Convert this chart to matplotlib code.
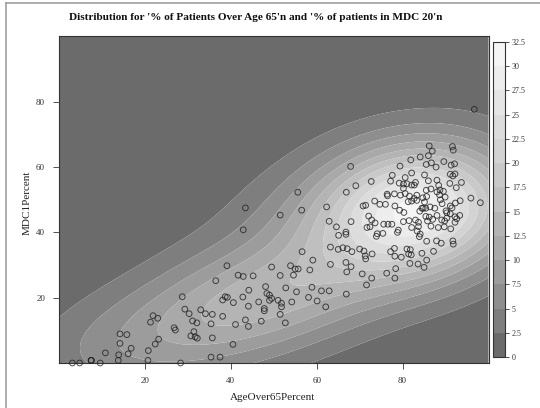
import numpy as np
import matplotlib
matplotlib.use("Agg")
import matplotlib.pyplot as plt
from matplotlib.colors import ListedColormap, BoundaryNorm
from matplotlib.lines import Line2D

# ---- data ----
age_over65 = [
    43.4, 42.9, 39.1, 36.5, 41.7, 42.9, 45.2, 44.2, 42.8, 38.7, 38.1, 39.2, 40.6, 28.7, 29.3, 30.3,
    33.0, 34.1, 35.7, 38.1, 44.1, 46.5, 52.7, 47.1, 43.4, 44.1, 41.1, 35.4, 31.1, 32.1, 26.8, 27.1,
    31.4, 30.7, 31.7, 32.2, 35.7, 40.5, 21.9, 23.0, 21.3, 14.2, 15.8, 14.2, 23.2, 22.4, 20.8, 16.8,
    16.1, 13.9, 13.8, 10.8, 20.7, 3.1, 4.8, 7.5, 7.5, 7.5, 9.6, 28.3, 35.4, 37.5,
    86.2, 86.9, 86.0, 91.6, 91.8, 84.1, 81.9, 85.5, 86.7, 87.8, 89.6, 92.1, 91.3, 79.4, 82.1, 85.1,
    80.6, 77.6, 77.2, 67.9, 72.7, 69.1, 92.2, 91.1, 91.7, 93.7, 88.0, 88.4, 88.7, 88.0, 79.2, 80.2,
    81.0, 82.1, 82.7, 83.0, 80.2, 78.1, 76.4, 76.5, 55.6, 66.9, 85.5, 86.6, 92.5, 93.4, 95.9, 98.1,
    79.5, 80.6, 81.6, 82.7, 83.3, 81.3, 82.1, 83.3, 84.7, 85.6, 85.1, 84.5, 84.8, 85.4, 86.4, 87.5,
    88.6, 88.8, 89.2, 90.1, 91.1, 91.5, 70.8, 71.4, 73.5, 74.7, 76.0, 78.2, 79.3, 80.3, 56.5, 62.3,
    51.5, 62.9, 68.0, 64.6, 65.1, 66.8, 66.8, 72.1, 72.8, 73.6, 72.4, 71.7, 74.1, 73.9, 75.4, 75.6,
    76.6, 77.5, 78.8, 79.0, 80.2, 81.5, 83.0, 83.7, 83.7, 82.1, 83.4, 84.1, 83.9, 85.8, 86.6, 86.2,
    85.4, 88.0, 89.1, 89.8, 90.3, 91.1, 92.2, 92.6, 93.3, 88.3, 89.7, 91.2, 92.2, 85.6, 87.9, 89.0,
    91.7, 91.8, 87.2, 63.2, 65.0, 66.1, 67.1, 68.2, 70.0, 71.0, 71.3, 71.4, 72.9, 77.2, 78.1, 78.2,
    79.7, 81.0, 81.8, 81.4, 82.0, 84.5, 85.6, 81.7, 83.6, 85.0, 56.6, 59.1, 63.2, 66.8, 68.0, 67.0,
    70.6, 72.8, 76.3, 78.4, 78.2, 71.6, 49.5, 53.9, 55.0, 55.7, 54.6, 58.4, 51.5, 52.8, 58.9, 61.1,
    62.9, 55.3, 66.9, 48.1, 48.4, 49.0, 49.5, 49.0, 51.0, 51.8, 51.8, 51.5, 47.8, 47.8, 54.2, 58.1,
    60.1, 62.1, 96.7,
    89.9, 90.3, 89.5, 92.3, 91.0, 87.0, 84.0, 86.0,
]
mdc1 = [
    47.5, 40.8, 29.8, 25.2, 26.9, 26.5, 26.7, 22.3, 20.2, 20.3, 19.3, 20.1, 18.5, 20.3, 16.5, 15.1,
    16.3, 15.1, 14.9, 14.3, 17.4, 18.7, 12.3, 12.8, 13.2, 11.2, 11.8, 12.0, 12.9, 12.3, 10.8, 10.1,
    9.6, 8.3, 8.0, 7.6, 7.7, 5.7, 14.5, 13.7, 12.5, 8.9, 8.7, 6.0, 7.3, 5.8, 3.8, 4.5,
    2.8, 2.5, 0.8, 3.1, 0.8, 0.0, 0.0, 0.8, 0.8, 0.8, 0.0, 0.0, 1.8, 1.8,
    66.5, 64.9, 63.5, 66.3, 65.2, 63.1, 62.2, 60.8, 61.3, 60.0, 61.7, 61.0, 60.6, 60.3, 58.2, 57.6,
    56.8, 57.5, 55.7, 60.2, 55.6, 54.3, 57.9, 57.8, 57.3, 55.3, 56.0, 54.4, 53.0, 52.4, 55.1, 54.8,
    54.9, 54.5, 54.5, 55.3, 53.5, 51.8, 51.7, 51.2, 52.3, 52.3, 52.9, 53.3, 53.7, 49.7, 50.5, 49.1,
    51.4, 51.9, 51.1, 50.4, 51.4, 49.4, 49.6, 49.8, 50.6, 51.0, 49.3, 47.4, 47.4, 47.4, 47.8, 47.4,
    51.5, 50.0, 48.8, 46.6, 48.1, 47.5, 48.1, 48.3, 49.6, 48.6, 48.6, 48.1, 46.8, 46.1, 46.8, 47.8,
    45.3, 43.4, 43.3, 41.7, 39.1, 40.1, 39.4, 45.0, 43.8, 42.9, 41.7, 41.5, 39.6, 38.8, 39.7, 42.5,
    42.5, 42.5, 40.0, 40.7, 43.3, 43.6, 43.8, 43.1, 41.8, 41.5, 40.4, 39.5, 38.7, 43.5, 41.9, 44.7,
    44.9, 45.2, 43.8, 43.5, 44.4, 45.7, 44.8, 44.2, 45.2, 41.5, 41.7, 41.1, 43.1, 37.3, 37.4, 36.7,
    37.4, 36.4, 34.2, 35.5, 34.8, 35.3, 35.0, 34.1, 34.9, 34.3, 32.8, 31.9, 33.4, 34.1, 35.1, 32.7,
    32.4, 34.9, 34.7, 33.4, 33.1, 33.6, 31.5, 30.5, 30.3, 29.3, 34.1, 31.5, 30.2, 30.8, 29.5, 27.9,
    27.3, 26.0, 27.5, 28.9, 26.0, 23.9, 29.4, 29.8, 28.8, 28.8, 26.9, 28.5, 26.8, 23.0, 23.2, 22.1,
    22.1, 21.8, 21.1, 23.4, 21.3, 20.8, 19.8, 19.2, 19.2, 18.3, 17.2, 14.9, 16.7, 16.0, 18.7, 20.1,
    19.0, 17.2, 77.7,
    50.8, 46.0, 52.6, 49.0, 55.0, 44.0, 46.5, 55.8,
]
levels = [0, 2.5, 5, 7.5, 10, 12.5, 15, 17.5, 20, 22.5, 25, 27.5, 30, 32.5]
x_ticks = [20, 40, 60, 80]
y_ticks = [20, 40, 60, 80]
lims = (0, 100)
peak_value = 31.0      # highest density value read from the key
bw_factor = 1.7        # smoothing used by the density surface

title = "Distribution for '% of Patients Over Age 65'n and '% of patients in MDC 20'n"
xlabel = "AgeOver65Percent"
ylabel = "MDC1Percent"

# ---- 2-D kernel density (MASS::kde2d style) ----
x = np.asarray(age_over65, float)
y = np.asarray(mdc1, float)
n = len(x)

def bw_nrd(v):
    q = np.percentile(v, [25, 75])
    h = (q[1] - q[0]) / 1.34
    return 4 * 1.06 * min(np.sqrt(np.var(v, ddof=1)), h) * len(v) ** (-0.2)

hx = bw_nrd(x) / 4 * bw_factor
hy = bw_nrd(y) / 4 * bw_factor
gx = np.linspace(lims[0], lims[1], 200)
gy = np.linspace(lims[0], lims[1], 200)
kx = np.exp(-0.5 * ((gx[:, None] - x[None, :]) / hx) ** 2)
ky = np.exp(-0.5 * ((gy[:, None] - y[None, :]) / hy) ** 2)
z = ky @ kx.T
z = z / z.max() * peak_value

# ---- colours (R gray.colors style) ----
nb = len(levels) - 1
gamma = 2.2
vals = np.linspace(0.42 ** gamma, 0.96 ** gamma, nb) ** (1 / gamma)
cmap = ListedColormap([(v, v, v) for v in vals])
norm = BoundaryNorm(levels, cmap.N)

plt.rcParams['font.family'] = ['Liberation Serif', 'DejaVu Serif']
W, H = 540, 408
fig = plt.figure(figsize=(W / 100, H / 100), dpi=100)

ax = fig.add_axes([59 / W, 1 - 363 / H, (488.5 - 59) / W, (363 - 36.5) / H])
cf = ax.contourf(gx, gy, z, levels=levels, cmap=cmap, norm=norm, antialiased=True)
ax.scatter(x, y, s=17, facecolors='none', edgecolors='#222222', linewidths=0.7, alpha=0.8,
           clip_on=False, zorder=3)
ax.set_xlim(*lims)
ax.set_ylim(*lims)
ax.set_xticks(x_ticks)
ax.set_yticks(y_ticks)
ax.tick_params(axis='both', direction='out', length=4, width=0.6, colors='#333333',
               labelsize=6.5, labelcolor='#333333', pad=6)
for sp in ax.spines.values():
    sp.set_linewidth(0.8)
    sp.set_color('#333333')
fig.text(273 / W, 1 - 398 / H, xlabel, ha='center', va='center', fontsize=8, color='#222222')
fig.text(27 / W, 1 - 203 / H, ylabel, ha='center', va='center', rotation=90, fontsize=8, color='#222222')
fig.text(256 / W, 1 - 17 / H, title, ha='center', va='center', fontsize=8.1, fontweight='bold',
         color='#111111')

cax = fig.add_axes([493 / W, 1 - 357.3 / H, 12 / W, (357.3 - 41.7) / H])
cb = fig.colorbar(cf, cax=cax, ticks=levels)
cb.ax.set_yticklabels([f"{v:g}" for v in levels])
cb.ax.tick_params(direction='out', length=3, width=0.6, labelsize=5.8, colors='#333333', pad=2)
cb.outline.set_linewidth(0.8)
cb.outline.set_edgecolor('#333333')

# outer frame lines (left and top)
fig.add_artist(Line2D([6 / W, 6 / W], [0, 1 - 3 / H], transform=fig.transFigure, color='#a0a0a0', lw=1.2))
fig.add_artist(Line2D([6 / W, 1], [1 - 3 / H, 1 - 3 / H], transform=fig.transFigure, color='#a0a0a0', lw=1.2))

fig.savefig("out.png", dpi=100, facecolor='white')
